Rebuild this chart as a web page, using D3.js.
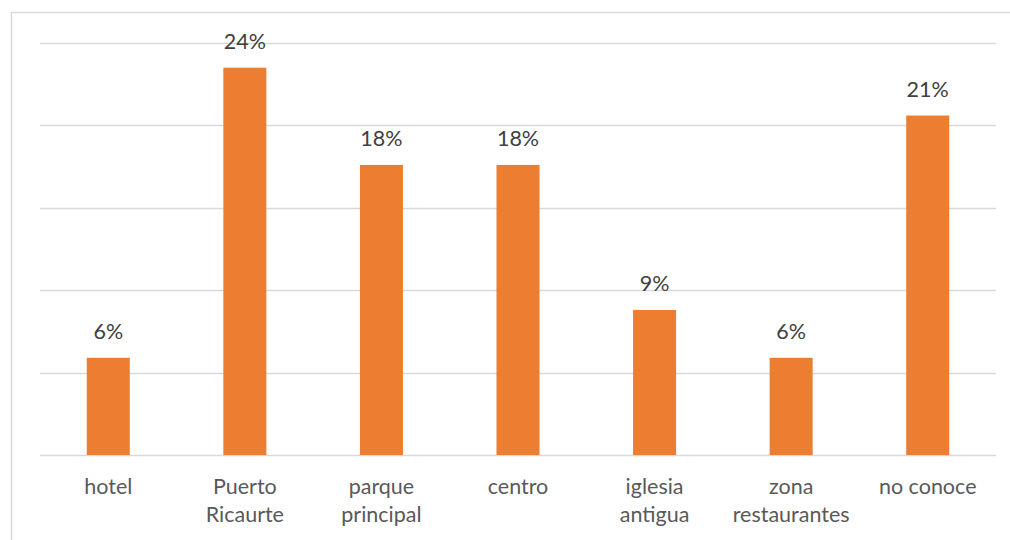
<!DOCTYPE html>
<html><head><meta charset="utf-8">
<script src="https://cdn.jsdelivr.net/npm/d3@7"></script>
<style>html,body{margin:0;padding:0;background:#fff;}svg{display:block;}</style>
</head><body>
<svg id="c" width="1010" height="540"></svg>
<script>
const categories = [["hotel"], ["Puerto", "Ricaurte"], ["parque", "principal"], ["centro"], ["iglesia", "antigua"], ["zona", "restaurantes"], ["no conoce"]];
const values = [0.059, 0.235, 0.176, 0.176, 0.088, 0.059, 0.206];
const gridTicks = [0, 0.05, 0.10, 0.15, 0.20, 0.25];

const svg = d3.select("#c");
const font = "Lato, 'Open Sans', sans-serif";

svg.append("rect").attr("x", 11.5).attr("y", 12.5).attr("width", 1100).attr("height", 600)
  .attr("fill", "none").attr("stroke", "#d9d9d9").attr("stroke-width", 1.5);

const x = d3.scaleBand().domain(d3.range(categories.length)).range([40, 996]).paddingInner(0.685).paddingOuter(0.3425);
const y = d3.scaleLinear().domain([0, 0.25]).range([455, 43]);

svg.append("g").selectAll("line").data(gridTicks).join("line")
  .attr("x1", 40).attr("x2", 996)
  .attr("y1", d => Math.round(y(d)) + 0.5).attr("y2", d => Math.round(y(d)) + 0.5)
  .attr("stroke", "#d9d9d9").attr("stroke-width", 1.5);

svg.append("g").selectAll("rect").data(values).join("rect")
  .attr("x", (d, i) => x(i)).attr("width", x.bandwidth())
  .attr("y", d => y(d)).attr("height", d => y(0) - y(d))
  .attr("fill", "#ed7d31");

svg.append("g").selectAll("text").data(values).join("text")
  .attr("x", (d, i) => x(i) + x.bandwidth() / 2)
  .attr("y", d => y(d) - 19)
  .attr("text-anchor", "middle")
  .attr("font-family", font).attr("font-size", 21.5).attr("fill", "#404040")
  .text(d => Math.round(d * 100) + "%");

const lab = svg.append("g").selectAll("text").data(categories).join("text")
  .attr("x", (d, i) => x(i) + x.bandwidth() / 2)
  .attr("y", 494)
  .attr("text-anchor", "middle")
  .attr("font-family", font).attr("font-size", 21.5).attr("fill", "#595959");
lab.selectAll("tspan").data(d => d).join("tspan")
  .attr("x", function() { return d3.select(this.parentNode).attr("x"); })
  .attr("dy", (d, i) => i === 0 ? 0 : 28)
  .text(d => d);
</script>
</body></html>
